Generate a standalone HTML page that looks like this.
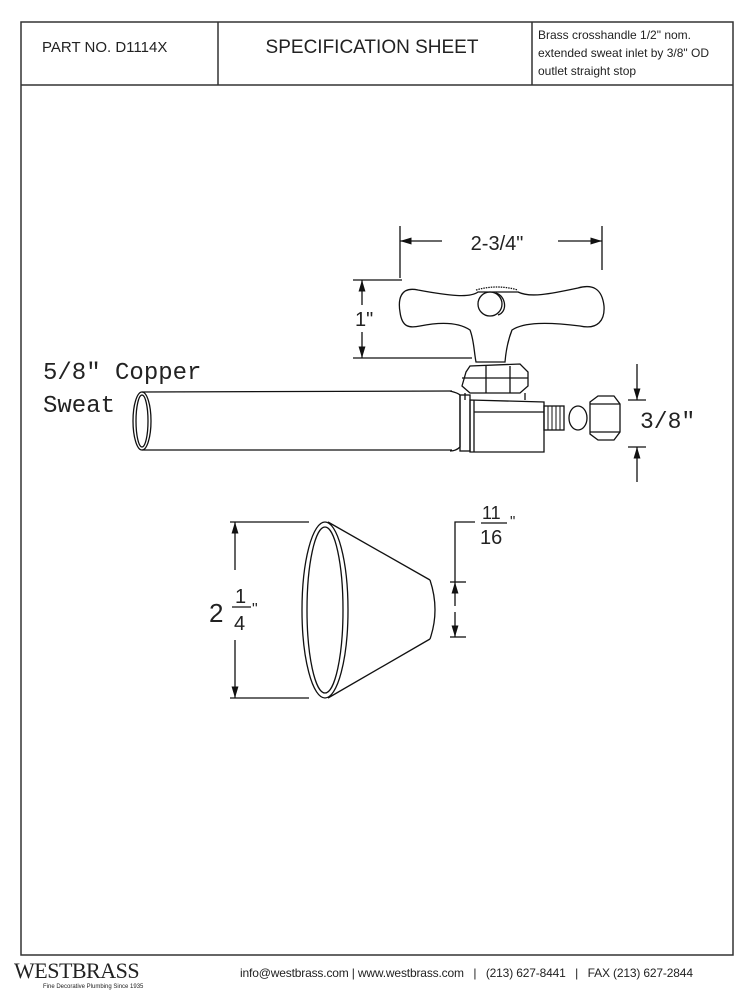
<!DOCTYPE html>
<html><head><meta charset="utf-8"><style>
body{margin:0;background:#fff;width:752px;height:990px;overflow:hidden;font-family:"Liberation Sans",sans-serif}
</style></head><body>
<svg width="752" height="990" viewBox="0 0 752 990" xmlns="http://www.w3.org/2000/svg">
<defs>
<marker id="a" viewBox="0 0 10 10" refX="10" refY="5" markerWidth="9" markerHeight="9" orient="auto-start-reverse"><path d="M0,2 L10,5 L0,8 z" fill="#111"/></marker>
</defs>
<g fill="none" stroke="#333" stroke-width="1.5">
<rect x="21" y="22" width="712" height="933"/>
<line x1="21" y1="85" x2="733" y2="85"/>
<line x1="218" y1="22" x2="218" y2="85"/>
<line x1="532" y1="22" x2="532" y2="85"/>
</g>
<g font-family="Liberation Sans Narrow, Liberation Sans, sans-serif" fill="#222">
<text x="42" y="52" font-size="15">PART NO.  D1114X</text>
<text x="372" y="53" font-size="19" text-anchor="middle">SPECIFICATION SHEET</text>
<text x="538" y="39" font-size="12">Brass crosshandle 1/2" nom.</text>
<text x="538" y="57" font-size="12">extended sweat inlet by 3/8" OD</text>
<text x="538" y="75" font-size="12">outlet straight stop</text>
</g>
<g stroke="#111" stroke-width="1.3" fill="none">
<line x1="400" y1="226" x2="400" y2="278"/>
<line x1="602" y1="226" x2="602" y2="270"/>
<line x1="442" y1="241" x2="400" y2="241" marker-end="url(#a)"/>
<line x1="558" y1="241" x2="602" y2="241" marker-end="url(#a)"/>
<line x1="353" y1="280" x2="402" y2="280"/>
<line x1="353" y1="358" x2="472" y2="358"/>
<line x1="362" y1="305" x2="362" y2="280" marker-end="url(#a)"/>
<line x1="362" y1="332" x2="362" y2="358" marker-end="url(#a)"/>
<path d="M478,292 C470,298 450,296 418,290 C400,286 398,300 400,312 C402,328 410,328 420,326 C440,322 458,322 470,330 C474,340 474,352 476,362 L505,362 C506,350 508,340 512,330 C524,322 548,322 580,326 C598,330 605,320 604,306 C602,288 592,284 578,288 C550,294 530,298 518,292 Z"/>
<path d="M476,290 Q497,284 518,290" stroke-dasharray="1.5 1"/>
<circle cx="490" cy="304" r="12"/>
<path d="M496,293 C506,296 508,312 498,315"/>
<path d="M466,372 L470,366 L520,364 L528,372 L528,386 L520,393 L470,393 L462,386 Z"/>
<line x1="462" y1="378" x2="528" y2="378"/>
<line x1="486" y1="366" x2="486" y2="393"/>
<line x1="510" y1="366" x2="510" y2="393"/>
<path d="M465,393 L465,400 M525,393 L525,400"/>
<ellipse cx="142" cy="421" rx="9" ry="29"/>
<ellipse cx="142" cy="421" rx="6" ry="26"/>
<line x1="142" y1="392" x2="452" y2="391"/>
<line x1="142" y1="450" x2="452" y2="450"/>
<path d="M450,391 Q458,393 460,395 L460,447 Q456,451 450,451"/>
<rect x="460" y="395" width="10" height="56"/>
<path d="M470,400 L544,402 L544,452 L470,452 Z"/>
<line x1="474" y1="412" x2="544" y2="412"/>
<line x1="474" y1="400" x2="474" y2="452"/>
<rect x="544" y="406" width="20" height="24"/>
<g stroke-width="1">
<line x1="548" y1="406" x2="548" y2="430"/><line x1="552" y1="406" x2="552" y2="430"/><line x1="556" y1="406" x2="556" y2="430"/><line x1="560" y1="406" x2="560" y2="430"/>
</g>
<ellipse cx="578" cy="418" rx="9" ry="12"/>
<path d="M590,402 L598,396 L614,396 L620,404 L620,432 L614,440 L598,440 L590,434 Z"/>
<line x1="590" y1="404" x2="620" y2="404"/>
<line x1="590" y1="432" x2="620" y2="432"/>
<line x1="628" y1="400" x2="646" y2="400"/>
<line x1="628" y1="447" x2="646" y2="447"/>
<line x1="637" y1="364" x2="637" y2="400" marker-end="url(#a)"/>
<line x1="637" y1="482" x2="637" y2="447" marker-end="url(#a)"/>
<ellipse cx="325" cy="610" rx="23" ry="88"/>
<ellipse cx="325" cy="610" rx="18" ry="83"/>
<line x1="328" y1="522" x2="430" y2="580"/>
<line x1="328" y1="698" x2="430" y2="639"/>
<path d="M430,580 Q440,610 430,639"/>
<line x1="230" y1="522" x2="309" y2="522"/>
<line x1="230" y1="698" x2="309" y2="698"/>
<line x1="235" y1="570" x2="235" y2="522" marker-end="url(#a)"/>
<line x1="235" y1="640" x2="235" y2="698" marker-end="url(#a)"/>
<polyline points="475,522 455,522 455,582"/>
<line x1="450" y1="582" x2="466" y2="582"/>
<line x1="450" y1="637" x2="466" y2="637"/>
<line x1="455" y1="606" x2="455" y2="582" marker-end="url(#a)"/>
<line x1="455" y1="612" x2="455" y2="637" marker-end="url(#a)"/>
<line x1="481" y1="523" x2="507" y2="523"/>
<line x1="232" y1="607" x2="251" y2="607"/>
</g>
<g fill="#222" font-family="Liberation Mono, monospace">
<text x="43" y="379" font-size="24">5/8" Copper</text>
<text x="43" y="412" font-size="24">Sweat</text>
<text x="640" y="428" font-size="23">3/8"</text>
</g>
<g fill="#222" font-family="Liberation Sans, sans-serif">
<text x="497" y="250" font-size="20" text-anchor="middle">2-3/4"</text>
<text x="355" y="326" font-size="20">1"</text>
<text x="209" y="622" font-size="26">2</text>
<text x="235" y="603" font-size="20">1</text>
<text x="234" y="630" font-size="20">4</text>
<text x="252" y="614" font-size="16">"</text>
<text x="482" y="519" font-size="18">11</text>
<text x="480" y="544" font-size="20">16</text>
<text x="510" y="526" font-size="15">"</text>
</g>
<g fill="#222">
<text x="14" y="978" font-family="Liberation Serif, serif" font-size="22" letter-spacing="-0.5">WESTBRASS</text>
<text x="43" y="988" font-family="Liberation Sans, sans-serif" font-size="6">Fine Decorative Plumbing Since 1935</text>
<text x="240" y="977" font-family="Liberation Sans, sans-serif" font-size="12" xml:space="preserve" textLength="453" lengthAdjust="spacing">info@westbrass.com | www.westbrass.com   |   (213) 627-8441   |   FAX (213) 627-2844</text>
</g>
</svg>
</body></html>
